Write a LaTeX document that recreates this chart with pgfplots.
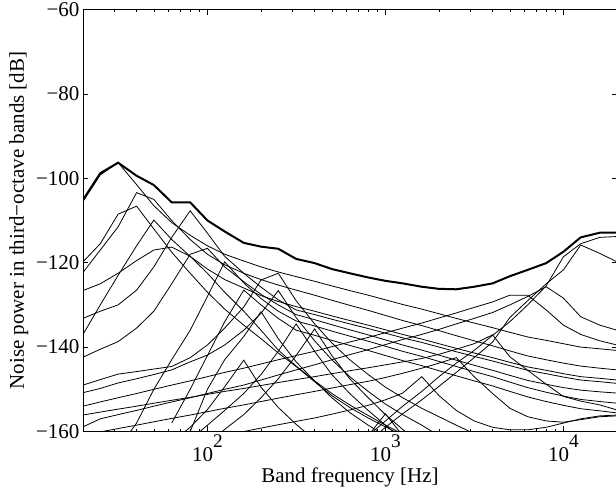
\documentclass[border=0pt]{standalone}
\usepackage{fontspec}
\setmainfont{Liberation Serif}
\usepackage{pgfplots}
\pgfplotsset{compat=1.18}

\pgfplotsset{
  thin/.style={black, line width=0.6pt, mark=none},
  env/.style={black, line width=1.5pt, mark=none},
}
\newcommand{\ex}[1]{10\raisebox{0.67em}{\fontsize{14.5}{15}\selectfont #1}}

\begin{document}
\fontsize{15.75}{18}\selectfont
\begin{tikzpicture}
\begin{axis}[
    xmode=log,
    scale only axis,
    width=400.5pt,
    height=316.5pt,
    xmin=20, xmax=20000,
    ymin=-160, ymax=-60,
    xtick={100,1000,10000},
    xticklabels={\ex{2},\ex{3},\ex{4}},
    minor xtick={20,30,40,50,60,70,80,90,200,300,400,500,600,700,800,900,2000,3000,4000,5000,6000,7000,8000,9000,20000},
    ytick={-160,-140,-120,-100,-80,-60},
    yticklabels={−160,−140,−120,−100,−80,−60},
    tick align=inside,
    xtick pos=both, ytick pos=both,
    major tick length=4pt,
    minor tick length=2.2pt,
    every tick/.style={black, line width=0.5pt},
    axis line style={line width=0.6pt},
    xticklabel style={anchor=base, yshift=-22.5pt},
    yticklabel style={anchor=east, inner sep=0pt, xshift=-2.5pt},
    xlabel={Band frequency [Hz]},
    ylabel={Noise power in third−octave bands [dB]},
    every axis x label/.style={at={(axis description cs:0.5,-0.1209)}, anchor=base},
    every axis y label/.style={at={(axis description cs:-0.1105,0.5)}, anchor=base, rotate=90},
]
% low-frequency peaks with shallow tails
\addplot[thin] coordinates {(20,-105.5)(25,-99.2)(31.5,-96.3)(40,-101.5)(50,-106.5)(63,-110.5)(80,-113.5)(100,-116)(125,-118)(160,-119.6)(200,-121)(250,-122.2)(315,-123.3)(400,-124.4)(500,-125.5)(630,-126.6)(800,-127.7)(1000,-128.8)(1250,-129.9)(1600,-131)(2000,-132.1)(2500,-133.2)(3150,-134.3)(4000,-135.4)(5000,-136.5)(6300,-137.6)(8000,-138.4)(10000,-139.2)(12500,-140)(16000,-140.4)(20000,-140.8)};
\addplot[thin] coordinates {(20,-122.3)(25,-117)(31.5,-111.5)(40,-103.4)(50,-105)(63,-110)(80,-114.5)(100,-118)(125,-120.5)(160,-122.5)(200,-124)(250,-125.3)(315,-126.5)(400,-127.7)(500,-128.9)(630,-130.1)(800,-131.3)(1000,-132.5)(1250,-133.7)(1600,-134.9)(2000,-136.1)(2500,-137.3)(3150,-138.5)(4000,-139.7)(5000,-140.9)(6300,-142.1)(8000,-143)(10000,-143.8)(12500,-144.5)(16000,-145)(20000,-145.4)};
\addplot[thin] coordinates {(20,-119.8)(25,-115.5)(31.5,-108.5)(40,-106.6)(50,-112)(63,-117.5)(80,-122.5)(100,-127)(125,-131)(160,-134.8)(200,-138)(250,-141.4)(315,-144.6)(400,-148.2)(500,-151.5)(630,-154.3)(800,-156.8)(1000,-158.9)(1250,-161)};
\addplot[thin] coordinates {(20,-137)(25,-130)(31.5,-123)(40,-116)(50,-109.9)(63,-114.5)(80,-118.5)(100,-121.5)(125,-124)(160,-126)(200,-127.8)(250,-129.2)(315,-130.4)(400,-131.5)(500,-132.6)(630,-133.7)(800,-134.8)(1000,-135.9)(1250,-137)(1600,-138.1)(2000,-139.2)(2500,-140.3)(3150,-141.4)(4000,-142.5)(5000,-143.6)(6300,-144.7)(8000,-145.5)(10000,-146.3)(12500,-147)(16000,-147.4)(20000,-147.8)};
\addplot[thin] coordinates {(20,-133.2)(25,-131.5)(31.5,-130)(40,-126.5)(50,-121)(63,-114)(80,-107.7)(100,-113)(125,-118.5)(160,-122.5)(200,-125.8)(250,-128.8)(315,-131.2)(400,-132.3)(500,-133.4)(630,-134.5)(800,-135.6)(1000,-136.7)(1250,-137.8)(1600,-138.9)(2000,-140)(2500,-141.1)(3150,-142.2)(4000,-143.3)(5000,-144.4)(6300,-145.5)(8000,-146.3)(10000,-147.1)(12500,-147.8)(16000,-148.2)(20000,-148.6)};
\addplot[thin] coordinates {(20,-142.4)(25,-140.5)(31.5,-138.7)(40,-135.5)(50,-131.5)(63,-125)(80,-118)(100,-116.6)(125,-121)(160,-124.5)(200,-127.5)(250,-130)(315,-132.3)(400,-133.5)(500,-134.7)(630,-135.9)(800,-137.1)(1000,-138.3)(1250,-139.5)(1600,-140.7)(2000,-141.9)(2500,-143.1)(3150,-144.3)(4000,-145.5)(5000,-146.7)(6300,-147.9)(8000,-148.8)(10000,-149.6)(12500,-150.2)(16000,-150.6)(20000,-150.9)};
\addplot[thin] coordinates {(31.5,-164)(40,-158)(50,-150)(63,-143)(80,-136)(100,-128)(125,-119.8)(160,-124.8)(200,-128.5)(250,-131.5)(315,-133.8)(400,-135)(500,-136.2)(630,-137.4)(800,-138.6)(1000,-139.8)(1250,-141)(1600,-142.2)(2000,-143.4)(2500,-144.6)(3150,-145.8)(4000,-147)(5000,-148.3)(6300,-149.6)(8000,-150.7)(10000,-151.6)(12500,-152.4)(16000,-152.9)(20000,-153.3)};
\addplot[thin] coordinates {(20,-126.6)(25,-125)(31.5,-122.5)(40,-119.5)(50,-117)(63,-116.3)(80,-118.5)(100,-122.5)(125,-127)(160,-131.5)(200,-136)(250,-140.7)(315,-144.5)(400,-148)(500,-151)(630,-153.7)(800,-156.2)(1000,-158.5)(1250,-160.6)};
\addplot[thin] coordinates {(63,-158)(80,-150)(100,-142)(125,-134)(160,-126.5)(200,-130)(250,-133.2)(315,-136)(400,-137.2)(500,-138.4)(630,-139.6)(800,-140.8)(1000,-142)(1250,-143.2)(1600,-144.4)(2000,-145.6)(2500,-146.8)(3150,-148)(4000,-149.2)(5000,-150.5)(6300,-151.8)(8000,-152.9)(10000,-153.8)(12500,-154.6)(16000,-155.1)(20000,-155.6)};
% mid-band peaks
\addplot[thin] coordinates {(63,-162.5)(80,-159)(100,-154.8)(125,-149.4)(160,-143.1)(200,-149.5)(250,-154.3)(315,-158.3)(400,-162)};
\addplot[thin] coordinates {(80,-160)(100,-150)(125,-143)(160,-137.5)(200,-131.6)(250,-138)(315,-143.5)(400,-148)(500,-152)(630,-155.5)(800,-158.5)(1000,-161)};
\addplot[thin] coordinates {(20,-149)(25,-147.7)(31.5,-146.4)(40,-145.8)(50,-145.2)(63,-144.6)(80,-142.5)(100,-139.5)(125,-135.5)(160,-130.5)(200,-124.1)(250,-122.5)(315,-129)(400,-134.5)(500,-139)(630,-143)(800,-146.5)(1000,-149.5)(1250,-152)(1600,-154.5)(2000,-156.5)(2500,-158.5)(3150,-160.5)};
\addplot[thin] coordinates {(20,-150.8)(25,-149.8)(31.5,-148.5)(40,-147.5)(50,-146.5)(63,-145.4)(80,-143.5)(100,-141.9)(125,-139.5)(160,-136)(200,-132)(250,-126.6)(315,-133)(400,-138.5)(500,-143)(630,-147)(800,-150.5)(1000,-153.5)(1250,-156)(1600,-158.5)(2000,-161)};
\addplot[thin] coordinates {(80,-162)(100,-158.5)(125,-155)(160,-151)(200,-146.5)(250,-141)(315,-134.5)(400,-141)(500,-146.5)(630,-151)(800,-155)(1000,-158.5)(1250,-162)};
\addplot[thin] coordinates {(100,-163)(125,-159.5)(160,-156)(200,-152)(250,-147.5)(315,-142)(400,-135.7)(500,-142)(630,-147.5)(800,-152)(1000,-156)(1250,-159.5)(1600,-163)};
\addplot[thin] coordinates {(800,-161)(1000,-155.8)(1250,-161)};
\addplot[thin] coordinates {(125,-160.8)(160,-160)(200,-159.2)(250,-158.4)(315,-157.6)(400,-156.8)(500,-155.9)(630,-154.9)(800,-153.8)(1000,-152.5)(1250,-150.9)(1600,-147)(2000,-151.5)(2500,-155)(3150,-157.5)(4000,-159)(5000,-159.6)(6300,-159.6)(8000,-159)(10000,-158)(12500,-157)(16000,-156.3)(20000,-156.1)};
\addplot[thin] coordinates {(20,-160.9)(25,-160.1)(31.5,-159.3)(40,-158.5)(50,-157.7)(63,-156.9)(80,-156.1)(100,-155.3)(125,-154.5)(160,-153.7)(200,-152.9)(250,-152.1)(315,-151.3)(400,-150.5)(500,-149.7)(630,-148.9)(800,-148.1)(1000,-147.2)(1250,-146.2)(1600,-145)(2000,-143.8)(2500,-142.5)(3150,-147)(4000,-151)(5000,-154.5)(6300,-156.5)(8000,-157.5)(10000,-157.8)(12500,-157.2)(16000,-156.5)(20000,-156.3)};
\addplot[thin] coordinates {(20,-156.1)(25,-155.4)(31.5,-154.7)(40,-154)(50,-153.3)(63,-152.6)(80,-151.9)(100,-151.2)(125,-150.5)(160,-149.8)(200,-149.1)(250,-148.4)(315,-147.7)(400,-147)(500,-146.3)(630,-145.6)(800,-144.9)(1000,-144.2)(1250,-143.5)(1600,-142.7)(2000,-141.7)(2500,-140.5)(3150,-139.2)(4000,-137.1)(5000,-142.3)(6300,-145.5)(8000,-148.8)(10000,-151.7)(12500,-152.8)(16000,-153.7)(20000,-154.9)};
% high-frequency peaks
\addplot[thin] coordinates {(20,-154)(25,-153)(31.5,-152)(40,-151)(50,-150)(63,-149)(80,-148)(100,-147)(125,-146)(160,-145)(200,-144)(250,-143)(315,-142)(400,-141)(500,-139.9)(630,-138.8)(800,-137.7)(1000,-136.6)(1250,-135.5)(1600,-134.3)(2000,-133.1)(2500,-131.9)(3150,-130.6)(4000,-129.3)(5000,-127.7)(6300,-127.7)(8000,-131.2)(10000,-134.8)(12500,-137)(16000,-138.5)(20000,-139.5)};
\addplot[thin] coordinates {(20,-158.9)(25,-157)(31.5,-156)(40,-155)(50,-154)(63,-153)(80,-152)(100,-151)(125,-150)(160,-149)(200,-147.8)(250,-146.6)(315,-145.4)(400,-144.2)(500,-143)(630,-141.8)(800,-140.6)(1000,-139.4)(1250,-138.2)(1600,-137)(2000,-135.8)(2500,-134.5)(3150,-133.2)(4000,-131.8)(5000,-130)(6300,-128)(8000,-125.7)(10000,-128.4)(12500,-132.8)(16000,-134.8)(20000,-136)};
\addplot[thin] coordinates {(800,-162.5)(1000,-159)(1250,-155.8)(1600,-152.5)(2000,-149.3)(2500,-146)(3150,-142.5)(4000,-138.8)(5000,-133)(6300,-129)(8000,-125)(10000,-121.7)(12500,-115.8)(16000,-117.8)(20000,-119.8)};
\addplot[thin] coordinates {(800,-161)(1000,-157.5)(1250,-154)(1600,-150.5)(2000,-147)(2500,-143.8)(3150,-140.8)(4000,-137.2)(5000,-134)(6300,-130)(8000,-125.5)(10000,-118.6)(12500,-115.5)(16000,-114)(20000,-113.8)};
% total
\addplot[env] coordinates {(20,-105.1)(25,-98.8)(31.5,-96.3)(40,-99.4)(50,-101.6)(63,-105.7)(80,-105.7)(100,-110)(125,-112.6)(160,-115.3)(200,-116.2)(250,-116.7)(315,-119.1)(400,-120.1)(500,-121.5)(630,-122.5)(800,-123.5)(1000,-124.3)(1250,-124.9)(1600,-125.7)(2000,-126.2)(2500,-126.3)(3150,-125.7)(4000,-124.9)(5000,-123.2)(6300,-121.7)(8000,-120.1)(10000,-117.4)(12500,-114)(16000,-112.9)(20000,-112.9)};
\coordinate (sw) at (rel axis cs:0,0);
\end{axis}
\pgfresetboundingbox
\path ([shift={(-62.25pt,-44.625pt)}]sw) rectangle ([shift={(399.75pt,323.625pt)}]sw);
\end{tikzpicture}
\end{document}
